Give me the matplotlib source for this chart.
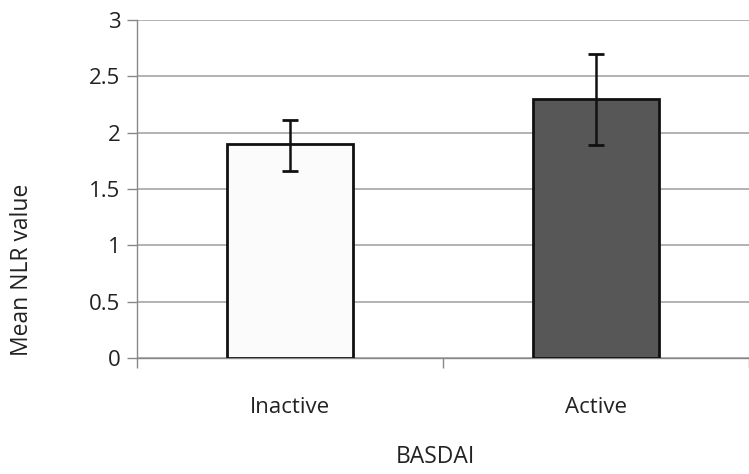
import matplotlib
matplotlib.use("Agg")
import matplotlib.pyplot as plt
import numpy as np

categories = ["Inactive", "Active"]
means = [1.90, 2.30]
err_low = [0.24, 0.41]
err_high = [0.21, 0.40]
yticks = [0, 0.5, 1, 1.5, 2, 2.5, 3]
ytick_labels = ["0", "0.5", "1", "1.5", "2", "2.5", "3"]
bar_colors = ["#fbfbfb", "#575757"]

plt.rcParams['font.family'] = ['Open Sans', 'DejaVu Sans']

fig = plt.figure(figsize=(7.49, 4.74), dpi=100)
ax = fig.add_axes([137/749, 1-358/474, 1-137/749, (358-20)/474])

x = np.arange(len(categories))
ax.bar(x, means, width=0.41, color=bar_colors, edgecolor="#111111", linewidth=2, zorder=3)
ax.errorbar(x, means, yerr=[err_low, err_high], fmt="none", ecolor="#111111",
            elinewidth=1.8, capsize=6, capthick=2, zorder=4)

ax.set_ylim(0, 3)
ax.set_xlim(-0.5, 0.5 + (749-447)/310)
ax.set_yticks(yticks)
ax.set_yticklabels(ytick_labels)
ax.set_xticks(x)
ax.set_xticklabels(categories)
ax.set_xticks([-0.5, 0.5, 1.5], minor=True)
ax.tick_params(axis='x', which='major', length=0, pad=28, labelsize=16, colors="#222222")
ax.tick_params(axis='x', which='minor', length=7, color="#888888", width=1)
ax.tick_params(axis='y', length=7, color="#888888", width=1, labelsize=16, labelcolor="#222222", pad=5)

ax.grid(axis='y', color="#a6a6a6", linewidth=1.2, zorder=0)
for s in ["top", "right"]:
    ax.spines[s].set_visible(False)
ax.spines["left"].set_color("#888888")
ax.spines["bottom"].set_color("#888888")
ax.spines["left"].set_linewidth(1)
ax.spines["bottom"].set_linewidth(1)

fig.text(435/749, 1-457/474, "BASDAI", ha="center", va="center", fontsize=16.5, color="#222222")
fig.text(22/749, 1-270/474, "Mean NLR value", ha="center", va="center", rotation=90, fontsize=16.5, color="#222222")

fig.savefig("out.png", dpi=100)
